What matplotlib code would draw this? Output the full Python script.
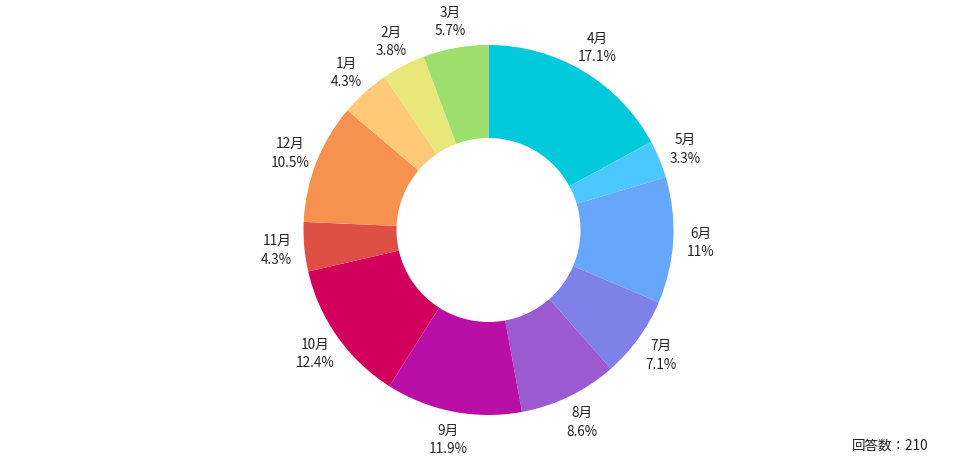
import matplotlib.pyplot as plt
import numpy as np

plt.rcParams['font.family'] = ['Noto Sans CJK JP', 'DejaVu Sans']

months = ['4月', '5月', '6月', '7月', '8月', '9月', '10月', '11月', '12月', '1月', '2月', '3月']
shares = [17.1, 3.3, 11, 7.1, 8.6, 11.9, 12.4, 4.3, 10.5, 4.3, 3.8, 5.7]
colors = ['#00c9dc', '#4cc8ff', '#67a7fb', '#8081e8', '#9c5ad1', '#b90fa6',
          '#d1005d', '#e04f46', '#f79150', '#ffc977', '#e7e77a', '#9cdf6c']
total = 210

fig = plt.figure(figsize=(9.76, 4.59), dpi=100)
ax = fig.add_axes([0, 0, 1, 1])

cx, cy, r = 488.5, 229, 185
ax.pie(shares, colors=colors, startangle=90, counterclock=False,
       center=(cx, cy), radius=r, frame=True,
       wedgeprops=dict(width=r - 92, linewidth=0))
ax.set_xlim(0, 976)
ax.set_ylim(0, 459)
ax.set_aspect('equal')
ax.axis('off')

# labels outside the ring
cum = np.cumsum([0] + shares[:-1])
for m, s, c0 in zip(months, shares, cum):
    ang = np.deg2rad(90 - (c0 + s / 2) / 100 * 360)
    lx = cx + 1.15 * r * np.cos(ang)
    ly = cy + 1.15 * r * np.sin(ang) - 1
    pct = ('%g' % s) + '%'
    ax.text(lx, ly, m + '\n' + pct, ha='center', va='center',
            fontsize=9.75, linespacing=1.4, color='#222222')

fig.text(0.951, 0.028, '回答数：%d' % total, ha='right', va='center',
         fontsize=9.75, color='#222222')

fig.savefig('out.png', dpi=100)
